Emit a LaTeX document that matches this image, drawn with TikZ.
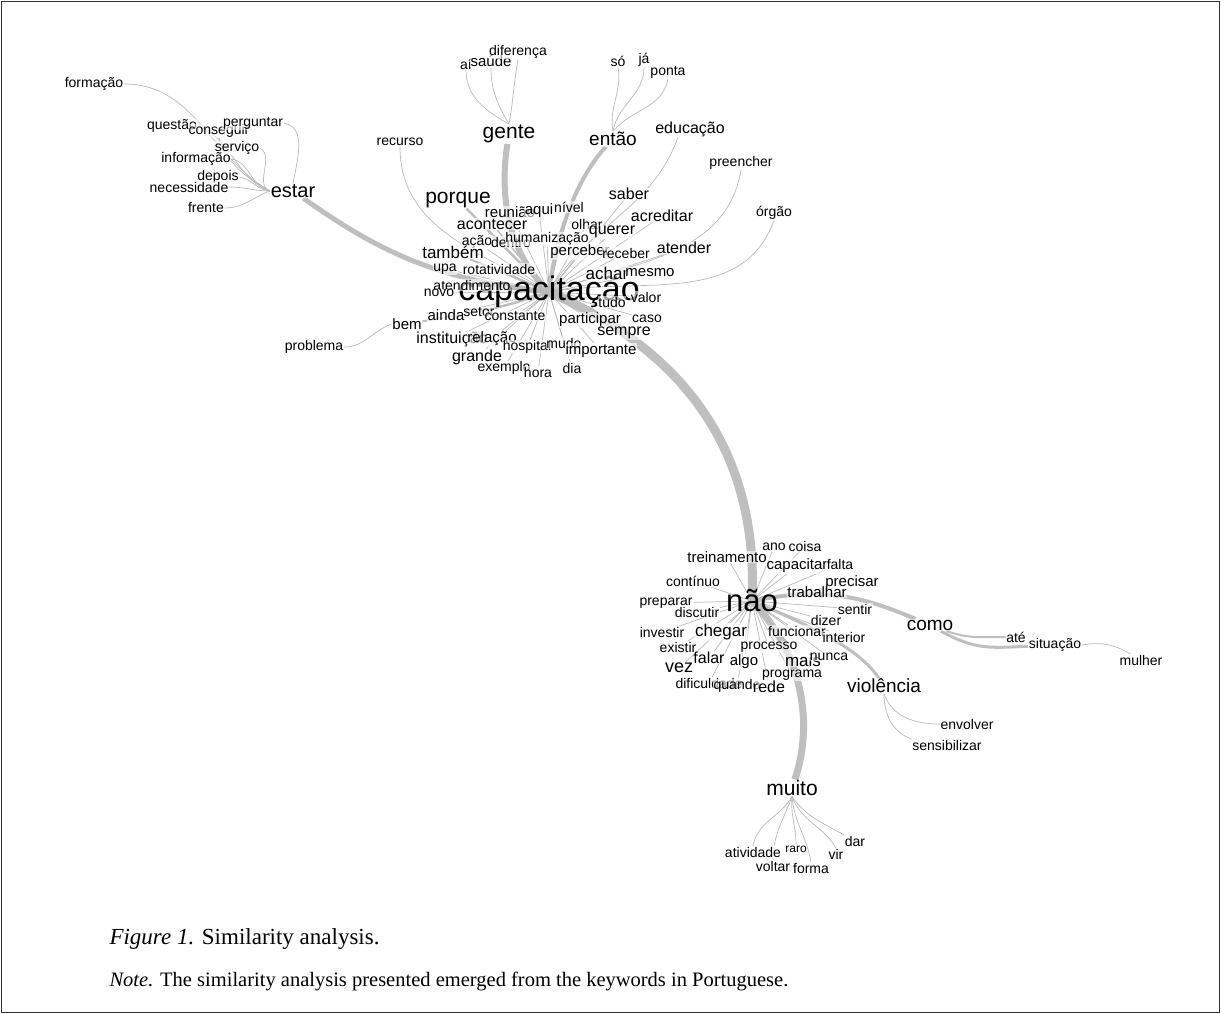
\documentclass[tikz,border=0pt]{standalone}
\usepackage{fontspec}
\setmainfont{Liberation Serif}
\setsansfont{Liberation Sans}
\pgfdeclarelayer{bg}
\pgfsetlayers{bg,main}

\begin{document}
\begin{tikzpicture}
    [x=1pt, y=1pt,
     fs/.style={font=\sffamily\fontsize{#1}{#1}\selectfont},
     w/.style={fs=14, text=black, fill=white, fill opacity=.6, text opacity=1, inner sep=.6pt},
     wm/.style={w, fs=16},
     wb/.style={w, fs=20},
     hub/.style={w, fs=#1, fill opacity=0},
     e/.style={draw=gray!55, line width=.7pt},
     band/.style={draw=gray!50, line width=#1}]
    \useasboundingbox (0,0) rectangle (1221,-1014);
    \draw[gray!40!black, line width=1pt] (1.5,-1.5) rectangle (1219.5,-1012.5);

    % hubs
    \node[hub=34] (capac) at (549,-292) {capacitação};
    \node[hub=31] (nao) at (752,-601) {não};
    \node[wb, fs=20] (estar) at (293,-191) {estar};
    \node[wb, fs=21] (gente) at (509,-134) {gente};
    \node[wb, fs=19] (entao) at (613,-139) {então};
    \node[wb, fs=21] (porque) at (458,-200) {porque};
    \node[wb, fs=21] (muito) at (792,-788) {muito};
    \node[wb, fs=19] (como) at (930,-625) {como};
    \node[wb, fs=19] (violencia) at (884,-686) {violência};

    % estar
    \node[w] (formacao) at (94,-84) {formação};
    \node[w] (questao) at (172,-126) {questão};
    \node[w] (conseguir) at (219,-131) {conseguir};
    \node[w] (perguntar) at (253,-123) {perguntar};
    \node[w] (servico) at (237,-148) {serviço};
    \node[w] (informacao) at (196,-159) {informação};
    \node[w] (depois) at (218,-177) {depois};
    \node[w] (necessidade) at (189,-187) {necessidade};
    \node[w] (frente) at (206,-208) {frente};

    % gente, entao
    \node[w] (ai) at (466,-64) {aí};
    \node[w, fs=15] (saude) at (491,-61) {saúde};
    \node[w] (diferenca) at (518,-52) {diferença};
    \node[w] (recurso) at (400,-142) {recurso};
    \node[w] (so) at (618,-61) {só};
    \node[w] (ja) at (644,-60) {já};
    \node[w] (ponta) at (668,-72) {ponta};
    \node[wm] (educacao) at (690,-129) {educação};

    % capacitacao
    \node[w] (preencher) at (741,-163) {preencher};
    \node[w] (orgao) at (774,-213) {órgão};
    \node[wm] (saber) at (629,-194) {saber};
    \node[wm] (acreditar) at (662,-216) {acreditar};
    \node[wm] (atender) at (684,-248) {atender};
    \node[w, fs=15] (reuniao) at (510,-212) {reunião};
    \node[w, fs=15] (aqui) at (539,-211) {aqui};
    \node[w] (nivel) at (569,-207) {nível};
    \node[wm] (acontecer) at (492,-224) {acontecer};
    \node[w] (olhar) at (587,-224) {olhar};
    \node[wm] (querer) at (612,-232) {querer};
    \node[w] (acao) at (477,-242) {ação};
    \node[w] (dentro) at (511,-242) {dentro};
    \node[w] (humanizacao) at (547,-239) {humanização};
    \node[wm, fs=17] (tambem) at (453,-252) {também};
    \node[w, fs=15] (perceber) at (580,-252) {perceber};
    \node[w] (receber) at (626,-253) {receber};
    \node[w] (upa) at (445,-269) {upa};
    \node[w] (rotatividade) at (499,-269) {rotatividade};
    \node[wm, fs=17] (achar) at (607,-273) {achar};
    \node[w, fs=15] (mesmo) at (650,-273) {mesmo};
    \node[w] (atendimento) at (472,-285) {atendimento};
    \node[w] (novo) at (439,-293) {novo};
    \node[w] (tudo) at (612,-302) {tudo};
    \node[w] (valor) at (646,-297) {valor};
    \node[w, fs=15] (ainda) at (446,-315) {ainda};
    \node[w] (setor) at (479,-312) {setor};
    \node[w] (constante) at (515,-316) {constante};
    \node[w, fs=15] (bem) at (407,-324) {bem};
    \node[w, fs=15] (participar) at (590,-320) {participar};
    \node[w] (caso) at (647,-319) {caso};
    \node[wm] (sempre) at (624,-333) {sempre};
    \node[w] (problema) at (314,-347) {problema};
    \node[wm] (instituicao) at (452,-339) {instituição};
    \node[w, fs=15] (relacao) at (492,-339) {relação};
    \node[w] (hospital) at (527,-347) {hospital};
    \node[w] (mudo) at (564,-343) {mudo};
    \node[w, fs=15] (importante) at (601,-351) {importante};
    \node[wm] (grande) at (477,-357) {grande};
    \node[w] (exemplo) at (504,-368) {exemplo};
    \node[w] (hora) at (538,-372) {hora};
    \node[w] (dia) at (572,-368) {dia};

    % nao
    \node[w] (ano) at (774,-547) {ano};
    \node[w] (coisa) at (805,-546) {coisa};
    \node[w, fs=15] (treinamento) at (727,-557) {treinamento};
    \node[w, fs=15] (capacitar) at (797,-566) {capacitar};
    \node[w] (falta) at (840,-564) {falta};
    \node[w] (continuo) at (693,-581) {contínuo};
    \node[w, fs=15] (precisar) at (852,-583) {precisar};
    \node[w, fs=15] (trabalhar) at (817,-592) {trabalhar};
    \node[w] (preparar) at (666,-603) {preparar};
    \node[w] (discutir) at (697,-612) {discutir};
    \node[w] (sentir) at (855,-609) {sentir};
    \node[w] (dizer) at (826,-620) {dizer};
    \node[w] (investir) at (662,-632) {investir};
    \node[wm, fs=17] (chegar) at (721,-632) {chegar};
    \node[w] (funcionar) at (797,-631) {funcionar};
    \node[w] (interior) at (844,-637) {interior};
    \node[w] (existir) at (678,-647) {existir};
    \node[w] (processo) at (769,-647) {processo};
    \node[wm] (falar) at (709,-658) {falar};
    \node[w, fs=15] (algo) at (744,-662) {algo};
    \node[wm, fs=17] (mais) at (803,-660) {mais};
    \node[w] (nunca) at (829,-657) {nunca};
    \node[wm, fs=18] (vez) at (679,-668) {vez};
    \node[w] (programa) at (792,-675) {programa};
    \node[w] (dificuldade) at (709,-683) {dificuldade};
    \node[w] (quando) at (737,-686) {quando};
    \node[wm] (rede) at (769,-687) {rede};
    \node[w] (ate) at (1016,-637) {até};
    \node[w] (situacao) at (1055,-645) {situação};
    \node[w] (mulher) at (1141,-660) {mulher};
    \node[w] (envolver) at (967,-724) {envolver};
    \node[w] (sensibilizar) at (947,-745) {sensibilizar};

    % muito
    \node[w] (atividade) at (753,-852) {atividade};
    \node[w, fs=12] (raro) at (796,-849) {raro};
    \node[w] (voltar) at (773,-866) {voltar};
    \node[w] (forma) at (811,-868) {forma};
    \node[w] (vir) at (836,-854) {vir};
    \node[w] (dar) at (855,-841) {dar};

    % caption
    \node[anchor=west, font=\fontsize{23}{23}\selectfont] (fig) at (106,-939) {\textit{Figure 1.} Similarity analysis.};
    \node[anchor=west, font=\fontsize{20.5}{20.5}\selectfont] (note) at (106,-981) {\textit{Note.} The similarity analysis presented emerged from the keywords in Portuguese.};

    \begin{pgfonlayer}{bg}
    \path[band=9pt] (capac.center) .. controls (660,-340) and (760,-430) .. (nao.center);
    \path[band=5pt] (capac.center) .. controls (430,-280) and (370,-245) .. (estar);
    \path[band=6pt] (capac.center) .. controls (505,-250) and (500,-190) .. (gente);
    \path[band=4pt] (capac.center) .. controls (555,-240) and (575,-180) .. (entao);
    \path[band=2.5pt] (capac.center) -- (porque);
    \path[band=2pt] (capac.center) -- (tambem);
    \path[band=1.5pt] (capac.center) -- (acontecer);
    \path[band=2pt] (capac.center) to[out=200, in=10] (bem);
    \path[band=7pt] (nao.center) .. controls (800,-650) and (815,-720) .. (muito);
    \path[band=4pt] (nao.center) .. controls (830,-585) and (870,-600) .. (como);
    \path[band=3pt] (nao.center) .. controls (820,-630) and (860,-650) .. (violencia);
    \path[band=3pt] (como) .. controls (975,-650) and (990,-648) .. (situacao);
    \path[band=2pt] (como) to[out=-20, in=180] (ate);

    \foreach \n in {reuniao, aqui, nivel, olhar, querer, acao, dentro, humanizacao,
        perceber, receber, upa, rotatividade, achar, mesmo, atendimento, novo, tudo,
        valor, ainda, setor, constante, participar, caso, sempre, instituicao, relacao,
        hospital, mudo, importante, grande, exemplo, hora, dia, saber, acreditar, atender}
        \path[e] (capac.center) -- (\n);
    \path[e] (recurso.south) to[out=-90, in=150] (capac.center);
    \path[e] ([xshift=-12pt]educacao.south) to[out=-110, in=60] (capac.center);
    \path[e] (preencher.south) to[out=-100, in=20] (capac.center);
    \path[e] (orgao.south) to[out=-110, in=10] (capac.center);
    \path[e] (problema.east) to[out=0, in=200] (bem.west);

    \foreach \n in {ano, coisa, treinamento, capacitar, falta, continuo, precisar,
        trabalhar, preparar, discutir, sentir, dizer, investir, chegar, funcionar,
        interior, existir, processo, falar, algo, mais, nunca, vez, programa,
        dificuldade, quando, rede}
        \path[e] (nao.center) -- (\n);
    \path[e] (situacao.east) to[out=10, in=150] (mulher);
    \path[e] (violencia.south) to[out=-70, in=180] (envolver.west);
    \path[e] (violencia.south) to[out=-90, in=160] (sensibilizar.north west);

    \path[e] (formacao.east) to[out=0, in=150] (estar.west);
    \path[e] (questao.east) to[out=-20, in=160] (estar.west);
    \path[e] (conseguir.south) to[out=-70, in=150] (estar.west);
    \path[e] (perguntar.east) to[out=-10, in=80] (estar.north);
    \path[e] (servico.east) to[out=-30, in=160] (estar.west);
    \path[e] (informacao.east) to[out=-10, in=170] (estar.west);
    \path[e] (depois.east) to[out=-10, in=175] (estar.west);
    \path[e] (necessidade.east) to[out=0, in=180] (estar.west);
    \path[e] (frente.east) to[out=0, in=200] (estar.west);

    \path[e] (ai.south) to[out=-90, in=150] (gente.north);
    \path[e] (saude.south) to[out=-90, in=120] (gente.north);
    \path[e] (diferenca.south) to[out=-100, in=80] (gente.north);
    \path[e] (so.south) to[out=-80, in=100] (entao.north);
    \path[e] (ja.south) to[out=-90, in=80] (entao.north);
    \path[e] (ponta.south) to[out=-100, in=50] (entao.north);

    \path[e] (muito.south) to[out=-120, in=80] (atividade.north);
    \path[e] (muito.south) to[out=-95, in=90] (raro.north);
    \path[e] (muito.south) to[out=-110, in=90] (voltar.north);
    \path[e] (muito.south) to[out=-85, in=100] (forma.north);
    \path[e] (muito.south) to[out=-70, in=120] (vir.north);
    \path[e] (muito.south) to[out=-55, in=150] (dar.north west);
    \end{pgfonlayer}
\end{tikzpicture}
\end{document}
